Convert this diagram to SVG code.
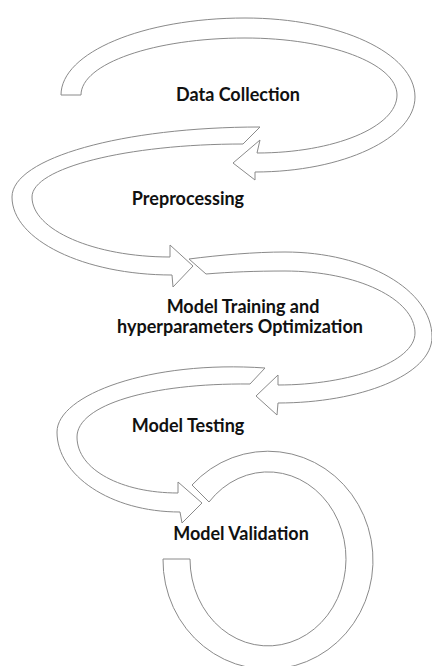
<svg xmlns="http://www.w3.org/2000/svg" width="432" height="666" viewBox="0 0 432 666">
<style>
.rib{fill:#fff;stroke:#8a8a8a;stroke-width:1;stroke-linejoin:miter}
.lbl{font-family:"Lato","Liberation Sans",sans-serif;font-weight:bold;font-size:18px;fill:#111;text-anchor:middle}
</style>
<rect width="432" height="666" fill="#fff"/>
<g id="connectors">
<path class="rib" d="M61,95 C61,52.5 143,18 245,18 C339,18 415,53 415,97 C415,138 343,172 255,172 L255,180 L233,163 L260,140 L257,153 C334,153 397,127 397,95 C397,63.5 329,38 245,38 C154.5,38 81,63.5 81,95 Z"/>
<path class="rib" d="M260,127 C123,127 12,158 12,197 C12,240 84,275 172,275 L173,287 L193,266 L170,245 L170,257 C94,257 32,230 32,197 C32,168 126.5,144 243,144 Z"/>
<path class="rib" d="M189,259 C220,255 255,252 285,252 C366,252 432,290 432,337 C432,375 360,403 278,403 L277,415 L256,396 L278,375 L278,385 C350,385 415,362 415,333 C415,299 357,271 285,271 C255,271 230,272 206,274 Z"/>
<path class="rib" d="M265,368 C150,360 57,395 57,432 C57,475 110,512 180,512 L182,523 L202,503 L178,482 L178,493 C122,493 77,470 77,437 C77,405 150,383 250,384 Z"/>
<path class="rib" d="M192,485 A105 109 0 1 1 163,559 L190,559 A78 87 0 1 0 209,502 Z"/>
</g>
<g id="data-collection"><text class="lbl" x="238" y="101">Data Collection</text></g>
<g id="preprocessing"><text class="lbl" x="188" y="205">Preprocessing</text></g>
<g id="model-training"><text class="lbl" x="243" y="313">Model Training and</text><text class="lbl" x="240" y="333">hyperparameters Optimization</text></g>
<g id="model-testing"><text class="lbl" x="188" y="432">Model Testing</text></g>
<g id="model-validation"><text class="lbl" x="241" y="540">Model Validation</text></g>
</svg>
